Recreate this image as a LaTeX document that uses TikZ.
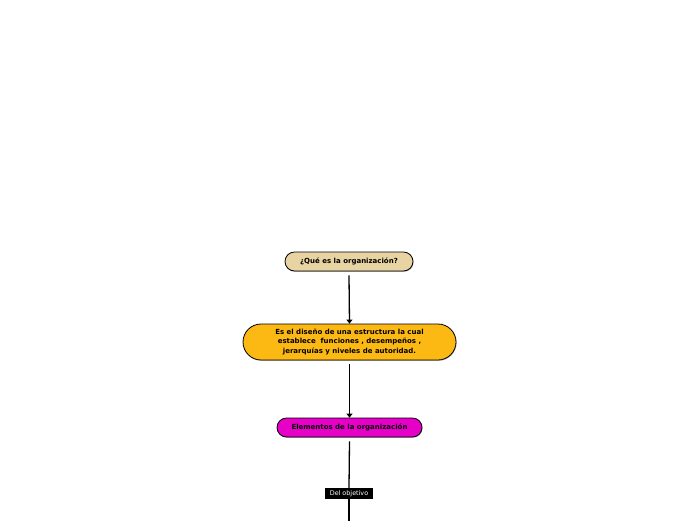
\documentclass[tikz,border=0pt]{standalone}
\usepackage{fontspec}
\setmainfont{DejaVu Sans}
\usepackage{tikz}
\usetikzlibrary{arrows.meta, shapes, positioning, shadows}
\definecolor{orgbeige}{RGB}{232, 211, 162}
\definecolor{orgorange}{RGB}{253, 185, 19}
\definecolor{orgmagenta}{RGB}{230, 0, 200}

\begin{document}
\begin{tikzpicture}[x=1pt, y=-1pt,
	orgbox/.style={draw=black, line width=0.8pt, rounded rectangle, align=center,
		font=\fontsize{7}{9.4}\selectfont\bfseries, inner sep=1pt,
		drop shadow={shadow xshift=0.6pt, shadow yshift=-0.8pt, opacity=0.6}},
	orgline/.style={line width=1.3pt, -{Triangle[width=6pt, length=4pt]}}]
	\useasboundingbox (0,0) rectangle (696,520);
	\node[orgbox, fill=orgbeige, minimum width=130pt, minimum height=19pt] (que) at (349,261.5) {¿Qué es la organización?};
	\node[orgbox, fill=orgorange, minimum width=215pt, minimum height=36pt] (diseno) at (349.5,342) {Es el diseño de una estructura la cual\\ establece \ funciones , desempeños ,\\ jerarquías y niveles de autoridad.};
	\node[orgbox, fill=orgmagenta, minimum width=147pt, minimum height=19pt] (elementos) at (349.5,427.5) {Elementos de la organización};
	\node[fill=black, text=white, font=\fontsize{6.4}{7}\selectfont, minimum width=48pt, minimum height=11pt, inner sep=1pt] (objetivo) at (349,493.5) {Del objetivo};
	\coordinate (abajo) at (349,521);
	\draw[orgline] ([yshift=-4pt]que.south) -- (diseno.north);
	\draw[orgline] ([yshift=-4pt]diseno.south) -- (elementos.north);
	\draw[line width=1.3pt] ([yshift=-4pt]elementos.south) -- (objetivo.north);
	\draw[line width=1.3pt] (objetivo.south) -- (abajo);
\end{tikzpicture}
\end{document}
